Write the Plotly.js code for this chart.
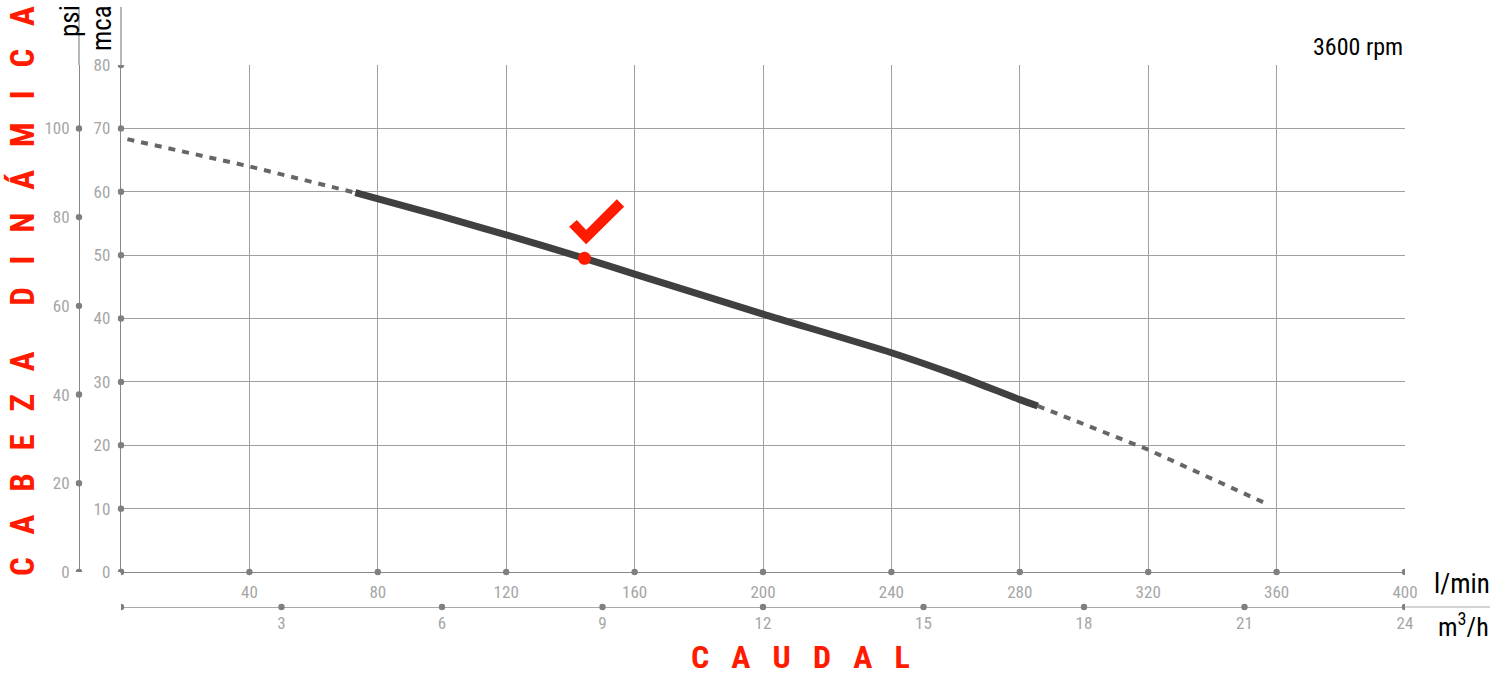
<!DOCTYPE html>
<html>
<head>
<meta charset="utf-8">
<script src="https://cdn.plot.ly/plotly-3.0.1.min.js"></script>
<style>html,body{margin:0;padding:0;background:#fff;}#chart{width:1509px;height:677px;}</style>
</head>
<body>
<div id="chart"></div>
<script>
// ---- data (l/min vs mca) ----
const qDashLeft  = [2, 40, 73];
const hDashLeft  = [68.3, 64.0, 59.85];
const qSolid     = [73, 100, 120, 144.4, 160, 200, 240, 260, 280, 285.6];
const hSolid     = [59.85, 56.1, 53.2, 49.5, 47.0, 40.7, 34.6, 31.1, 27.2, 26.2];
const qDashRight = [285.6, 320, 357.6];
const hDashRight = [26.2, 19.3, 10.6];
const qOp = [144.4];
const hOp = [49.5];

// ---- tick labels ----
const lminTicks = [40, 80, 120, 160, 200, 240, 280, 320, 360, 400];
const lminDots  = [0, 40, 80, 120, 160, 200, 240, 280, 320, 360, 400];
const m3hTicks  = [3, 6, 9, 12, 15, 18, 21, 24];
const m3hDots   = [0, 3, 6, 9, 12, 15, 18, 21, 24];
const mcaTicks  = [0, 10, 20, 30, 40, 50, 60, 70, 80];
const psiTicks  = [0, 20, 40, 60, 80, 100];

// ---- geometry helpers (layout only) ----
const W = 1509, H = 677;
const M = {l: 40, r: 104, t: 65, b: 37};
const PW = W - M.l - M.r, PH = H - M.t - M.b;
const px = v => (v - M.l) / PW;          // pixel x -> paper
const py = v => (H - M.b - v) / PH;      // pixel y -> paper
const xDom0 = px(121), yDom0 = py(572);
const psiPos = px(79), m3hPos = py(607);

const FONT = "'Roboto Condensed', 'Liberation Sans Narrow', Roboto, sans-serif";
const gridC = '#a0a0a0', lineC = '#888888', dotC = '#7f7f7f', tickC = '#a6a6a6';
const red = '#ff1a00';

const traces = [
  {x: qDashLeft, y: hDashLeft, mode: 'lines', line: {color: '#666', width: 4, dash: '7px,7px'}, hoverinfo: 'skip'},
  {x: qDashRight, y: hDashRight, mode: 'lines', line: {color: '#666', width: 4, dash: '7px,7px'}, hoverinfo: 'skip'},
  {x: qSolid, y: hSolid, mode: 'lines', line: {color: '#404040', width: 7, shape: 'spline', smoothing: 0.6}, hoverinfo: 'skip'},
  {x: qOp, y: hOp, mode: 'markers', marker: {color: red, size: 13}, hoverinfo: 'skip', cliponaxis: false}
];

const shapes = [];
const dot = (o) => Object.assign({type: 'circle', xsizemode: 'pixel', ysizemode: 'pixel',
  x0: -3.2, x1: 3.2, y0: -3.2, y1: 3.2, fillcolor: dotC, line: {width: 0}, layer: 'above'}, o);
mcaTicks.forEach(v => shapes.push(dot({xref: 'paper', xanchor: xDom0, yref: 'y', yanchor: v})));
psiTicks.forEach(v => shapes.push(dot({xref: 'paper', xanchor: psiPos, yref: 'y2', yanchor: v})));
lminDots.forEach(v => shapes.push(dot({xref: 'x', xanchor: v, yref: 'paper', yanchor: yDom0})));
m3hDots.forEach(v => shapes.push(dot({xref: 'x2', xanchor: v, yref: 'paper', yanchor: m3hPos})));
// axis line extensions
shapes.push({type: 'line', xref: 'paper', yref: 'paper', x0: xDom0, x1: xDom0, y0: 1, y1: py(7), line: {color: lineC, width: 1.2}});
shapes.push({type: 'line', xref: 'paper', yref: 'paper', x0: psiPos, x1: psiPos, y0: 1, y1: py(7), line: {color: lineC, width: 1.2}});
shapes.push({type: 'line', xref: 'paper', yref: 'paper', x0: 1, x1: px(1490), y0: m3hPos, y1: m3hPos, line: {color: '#a8a8a8', width: 1.2}});
// check mark anchored at the operating point
shapes.push({type: 'path', xref: 'x', yref: 'y', xsizemode: 'pixel', ysizemode: 'pixel',
  xanchor: qOp[0], yanchor: hOp[0],
  path: 'M -15.4 31.6 L 1.6 14 L 39.6 51.6 L 32.3 59 L 1.6 28.3 L -7.7 38.3 Z',
  fillcolor: red, line: {width: 0}, layer: 'above'});

const ann = (text, x, y, o) => Object.assign({text, xref: 'paper', yref: 'paper', x: px(x), y: py(y),
  xanchor: 'center', yanchor: 'middle', showarrow: false,
  font: {family: FONT, size: 22, color: '#000'}}, o);

const annotations = [
  ann('psi', 70, 21, {textangle: -90, font: {family: FONT, size: 27, color: '#000'}}),
  ann('mca', 102, 28, {textangle: -90, font: {family: FONT, size: 27, color: '#000'}}),
  ann('3600 rpm', 1405, 47, {xanchor: 'right', font: {family: FONT, size: 24, color: '#000'}}),
  ann('l/min', 1462, 584, {font: {family: FONT, size: 27, color: '#000'}}),
  ann('m<sup>3</sup>/h', 1463, 625, {font: {family: FONT, size: 26, color: '#000'}}),
  ann('C   A   U   D   A   L', 800, 657, {font: {family: FONT, size: 32, color: red, weight: 'bold'}}),
  ann('C   A   B   E   Z   A      D   I   N   Á   M   I   C   A', 22, 291,
      {textangle: -90, font: {family: FONT, size: 33, color: red, weight: 'bold'}})
];

const tickFont = {family: FONT, size: 17, color: tickC};

const layout = {
  width: W, height: H, margin: M, showlegend: false,
  paper_bgcolor: '#fff', plot_bgcolor: '#fff',
  xaxis: {domain: [xDom0, 1], range: [0, 400], tickmode: 'array', tickvals: lminTicks,
    ticktext: lminTicks.map(String), showgrid: true, gridcolor: gridC, gridwidth: 1,
    zeroline: false, showline: true, linecolor: lineC, linewidth: 1.2, mirror: false,
    ticks: '', tickfont: tickFont, ticklabelstandoff: 4, anchor: 'y', fixedrange: true},
  xaxis2: {overlaying: 'x', anchor: 'free', position: m3hPos, side: 'bottom', range: [0, 24],
    tickmode: 'array', tickvals: m3hTicks, ticktext: m3hTicks.map(String), showgrid: false,
    zeroline: false, showline: true, linecolor: '#a8a8a8', linewidth: 1.2, ticks: '',
    tickfont: tickFont, ticklabelstandoff: 0, fixedrange: true},
  yaxis: {domain: [yDom0, 1], range: [0, 80], tickmode: 'array', tickvals: mcaTicks,
    ticktext: mcaTicks.map(String), showgrid: true, gridcolor: gridC, gridwidth: 1,
    zeroline: false, showline: true, linecolor: lineC, linewidth: 1.2, ticks: '',
    tickfont: tickFont, ticklabelstandoff: 6, anchor: 'x', fixedrange: true},
  yaxis2: {overlaying: 'y', anchor: 'free', position: psiPos, side: 'left', range: [0, 80 / 0.7],
    tickmode: 'array', tickvals: psiTicks, ticktext: psiTicks.map(String), showgrid: false,
    zeroline: false, showline: true, linecolor: lineC, linewidth: 1.2, ticks: '',
    tickfont: tickFont, ticklabelstandoff: 6, fixedrange: true},
  shapes, annotations
};

Plotly.newPlot('chart', traces, layout, {displayModeBar: false, staticPlot: true});
</script>
</body>
</html>
